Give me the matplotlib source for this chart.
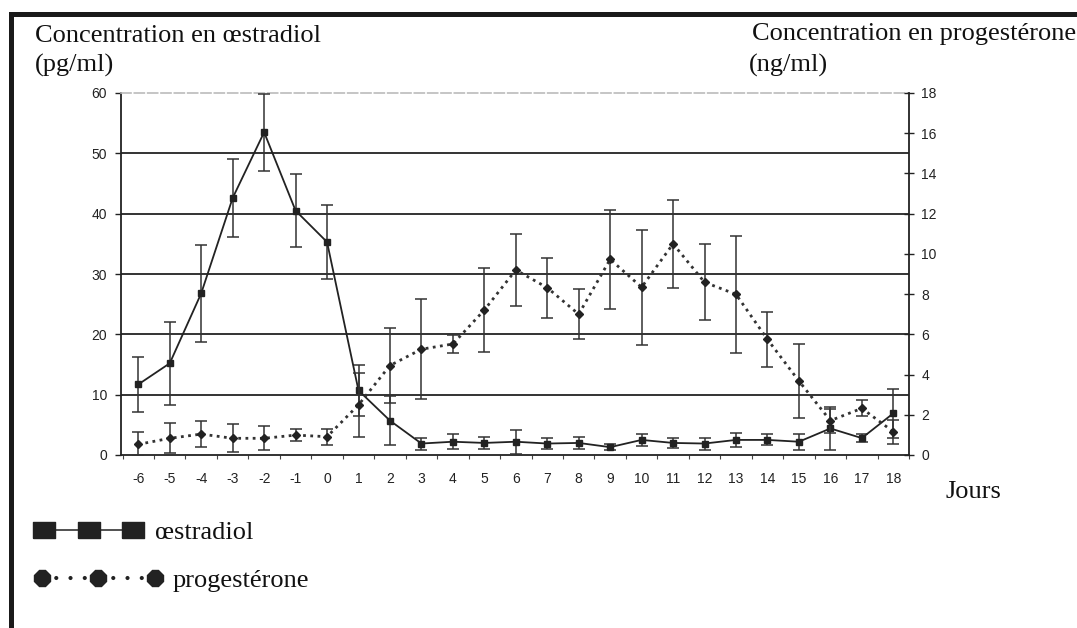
import matplotlib
matplotlib.use("Agg")
import matplotlib.pyplot as plt
from matplotlib.lines import Line2D
import numpy as np

# ---- data ----
days = list(range(-6, 19))
day_labels = [str(d) for d in days]
estradiol = [11.7, 15.2, 26.8, 42.6, 53.5, 40.5, 35.3, 10.7, 5.7, 1.9, 2.2, 2.0, 2.2,
             1.9, 2.0, 1.3, 2.5, 2.0, 1.9, 2.5, 2.5, 2.2, 4.4, 2.8, 6.9]
estradiol_err = [4.6, 6.9, 8.0, 6.4, 6.4, 6.0, 6.2, 4.3, 4.1, 1.0, 1.2, 1.0, 2.0,
                 0.9, 1.0, 0.5, 1.0, 0.8, 1.0, 1.2, 0.9, 1.3, 3.6, 0.7, 4.0]
progesterone = [0.53, 0.83, 1.04, 0.83, 0.83, 0.99, 0.91, 2.49, 4.45, 5.26, 5.52, 7.21, 9.2,
                8.32, 7.0, 9.73, 8.34, 10.5, 8.59, 7.99, 5.75, 3.68, 1.71, 2.32, 1.16]
progesterone_err = [0.6, 0.75, 0.65, 0.7, 0.6, 0.3, 0.4, 1.6, 1.86, 2.5, 0.45, 2.1, 1.8,
                    1.5, 1.25, 2.45, 2.85, 2.2, 1.9, 2.9, 1.35, 1.85, 0.6, 0.4, 0.6]
left_ticks = list(range(0, 61, 10))
right_ticks = list(range(0, 19, 2))

W, H = 1077, 628
fig = plt.figure(figsize=(W / 100, H / 100), dpi=100)
fig.patch.set_facecolor("white")

ax = fig.add_axes([121 / W, 1 - 455 / H, (909 - 121) / W, (455 - 93) / H])
ax2 = ax.twinx()

ink = "#222222"
tick_font = {"family": "Liberation Sans", "size": 10}
serif = "Liberation Serif"

# estradiol
ax.errorbar(days, estradiol, yerr=estradiol_err, fmt="-s", color=ink, ms=5, lw=1.3,
            elinewidth=1.1, capsize=4, capthick=1.1, ecolor="#333333", zorder=3)
# progesterone
ax2.errorbar(days, progesterone, yerr=progesterone_err, fmt="none", elinewidth=1.1,
             capsize=4, capthick=1.1, ecolor="#333333", zorder=3)
ax2.plot(days, progesterone, linestyle=(0, (1, 1.6)), lw=2, color="#333333",
         marker="D", ms=4.2, mfc=ink, mec=ink, zorder=4)

ax.set_xlim(-6.55, 18.5)
ax.set_ylim(0, 60)
ax2.set_ylim(0, 18)
ax.set_yticks(left_ticks)
ax2.set_yticks(right_ticks)
ax.set_xticks(days)
ax.set_xticklabels(day_labels, **tick_font, color=ink)
ax.set_xticks(np.arange(-6.5, 18.6, 1), minor=True)
ax.set_yticklabels([str(v) for v in left_ticks], **tick_font, color=ink)
ax2.set_yticklabels([str(v) for v in right_ticks], **tick_font, color=ink)

ax.tick_params(axis="x", which="major", length=0, pad=12)
ax.tick_params(axis="x", which="minor", length=3, width=0.8, direction="out", color="#444")
ax.tick_params(axis="y", length=4, width=1, direction="out", pad=6, color=ink)
ax2.tick_params(axis="y", length=7, width=1, direction="inout", pad=5.5, color=ink)

ax.grid(axis="y", color="#111111", lw=1.2, zorder=0)
ax.set_axisbelow(True)
gl = ax.get_ygridlines()
gl[0].set_visible(False)
gl[-1].set_visible(False)

for s in ("left", "bottom"):
    ax.spines[s].set_color(ink)
    ax.spines[s].set_linewidth(1.3)
ax.spines["right"].set_visible(False)
ax.spines["top"].set_color("#bbbbbb")
ax.spines["top"].set_linestyle((0, (6, 2)))
ax.spines["top"].set_linewidth(1.2)
ax2.spines["right"].set_color(ink)
ax2.spines["right"].set_linewidth(1.3)
for s in ("left", "bottom", "top"):
    ax2.spines[s].set_visible(False)

# axis titles
fig.text(35 / W, 1 - 41.7 / H, "Concentration en œstradiol", family=serif, size=19,
         va="baseline", color="#111")
fig.text(35 / W, 1 - 72 / H, "(pg/ml)", family=serif, size=19, va="baseline", color="#111")
fig.text(752 / W, 1 - 40 / H, "Concentration en progestérone", family=serif, size=19,
         va="baseline", color="#111")
fig.text(749 / W, 1 - 72 / H, "(ng/ml)", family=serif, size=19, va="baseline", color="#111")
fig.text(946 / W, 1 - 498 / H, "Jours", family=serif, size=19, va="baseline", color="#111")

# frame lines
fig.add_artist(Line2D([11 / W, 11 / W], [0, 1 - 14 / H], transform=fig.transFigure,
                      lw=3.6, color="#1a1a1a", solid_capstyle="projecting"))
fig.add_artist(Line2D([11 / W, 1], [1 - 14 / H, 1 - 14 / H], transform=fig.transFigure,
                      lw=3.6, color="#1a1a1a", solid_capstyle="projecting"))

# legend
rect = [(-1.45, -1), (1.45, -1), (1.45, 1), (-1.45, 1), (-1.45, -1)]
h_est = Line2D([], [], color="#333", lw=1.2, marker=rect, ms=15.8, mfc=ink, mec=ink)
h_prog = Line2D([], [], color=ink, lw=3, linestyle=(0, (0.01, 3.41)),
                dash_capstyle="round", marker="8", ms=12.2, mfc=ink, mec=ink)
prop = {"family": serif, "size": 19}
leg1 = fig.legend([h_est], ["œstradiol"], loc="center left",
                  bbox_to_anchor=(36 / W, 1 - 532 / H), frameon=False, borderpad=0,
                  borderaxespad=0, handlelength=3.99, handletextpad=0.52, numpoints=3,
                  prop=prop)
leg2 = fig.legend([h_prog], ["progestérone"], loc="center left",
                  bbox_to_anchor=(33.6 / W, 1 - 580 / H), frameon=False, borderpad=0,
                  borderaxespad=0, handlelength=4.9, handletextpad=0.38, numpoints=3,
                  prop=prop)
for lg in (leg1, leg2):
    for t in lg.get_texts():
        t.set_color("#111")

fig.savefig("out.png", dpi=100, facecolor="white")
